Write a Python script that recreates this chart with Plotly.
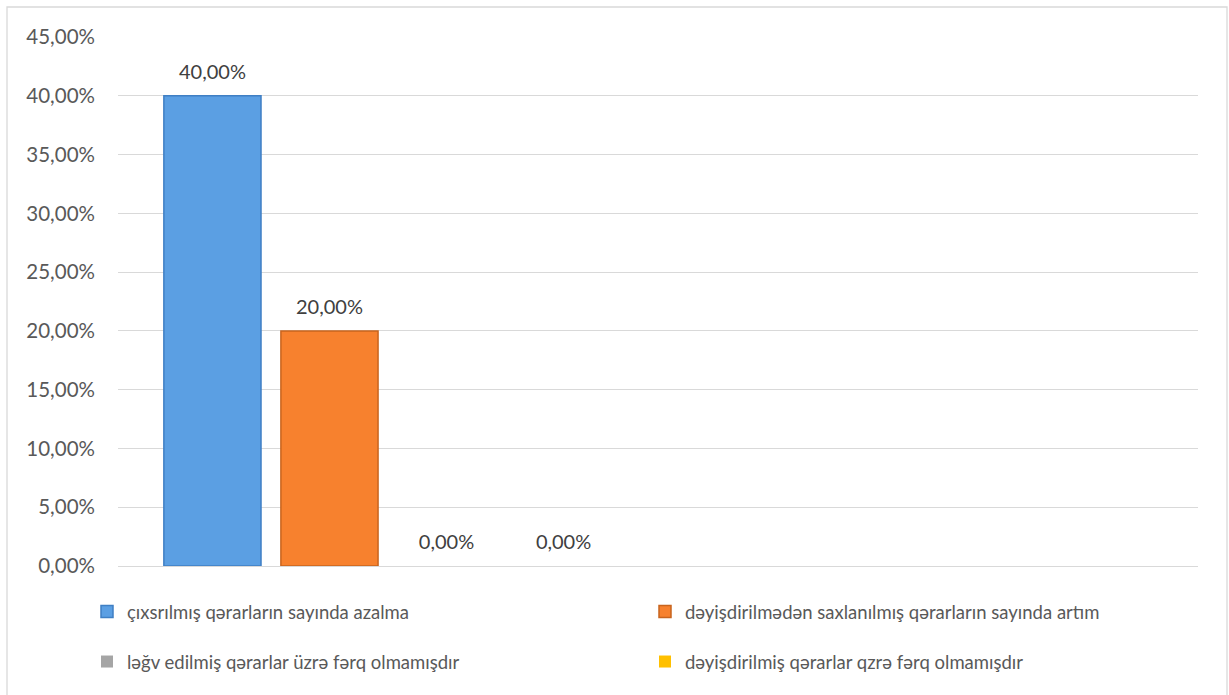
import plotly.graph_objects as go

# ---- data ----
categories = ["A", "B"]
series_names = [
    "çıxsrılmış qərarların sayında azalma",
    "dəyişdirilmədən saxlanılmış qərarların sayında artım",
    "ləğv edilmiş qərarlar üzrə fərq olmamışdır",
    "dəyişdirilmiş qərarlar qzrə fərq olmamışdır",
]
series_values = [0.40, 0.20, 0.0, 0.0]
series_colors = ["#5b9fe3", "#f7812e", "#a5a5a5", "#ffc000"]
series_lines = ["#3f7fc4", "#c8641e", "#7f7f7f", "#c99700"]
legend_ids = ["legend", "legend", "legend2", "legend2"]
y_ticks = [0, 0.05, 0.10, 0.15, 0.20, 0.25, 0.30, 0.35, 0.40, 0.45]

W, H = 1229, 695
ML, MR, MT, MB = 118, 31, 37, 129
PW, PH = W - ML - MR, H - MT - MB
GAP = 0.133

fig = go.Figure()
for i, (name, val, col, lc, lg) in enumerate(zip(series_names, series_values, series_colors, series_lines, legend_ids)):
    fig.add_trace(go.Bar(
        x=[categories[0]], y=[val], name=name, offsetgroup=str(i),
        marker=dict(color=col, line=dict(color=lc, width=1.5 if val > 0 else 0)),
        legend=lg, hoverinfo="name+y",
    ))
for i, val in enumerate(series_values):
    # data labels, placed with the same grouping as the bars
    fig.add_trace(go.Scatter(
        x=[categories[0]], y=[val], offsetgroup=str(i), mode="markers+text",
        texttemplate="%{y:.2%}", textposition="top center",
        textfont=dict(family="Lato", size=20, color="#404040"),
        marker=dict(size=18, color="rgba(0,0,0,0)"),
        showlegend=False, hoverinfo="skip", cliponaxis=False,
    ))

def px_x(x):
    return (x - ML) / PW

def px_y(y):
    return (H - MB - y) / PH

fig.update_layout(
    width=W, height=H,
    margin=dict(l=ML, r=MR, t=MT, b=MB, autoexpand=False),
    paper_bgcolor="white", plot_bgcolor="white",
    separators=", ",
    barmode="group", bargap=GAP, bargroupgap=0.17,
    scattermode="group", scattergap=GAP,
    font=dict(family="Lato", size=18, color="#595959"),
    xaxis=dict(categoryorder="array", categoryarray=categories, range=[-0.5, 1.5],
               showticklabels=False, showgrid=False, zeroline=False, showline=False,
               ticks=""),
    yaxis=dict(range=[0, 0.45], tickvals=y_ticks, tickformat=".2%",
               showgrid=True, gridcolor="#d9d9d9", gridwidth=1.3,
               zeroline=True, zerolinecolor="#d9d9d9", zerolinewidth=1.3,
               showline=False, ticks="", ticklabelstandoff=22,
               tickfont=dict(family="Lato", size=20.5, color="#595959")),
    legend=dict(orientation="h", x=px_x(87), xanchor="left", y=px_y(612), yanchor="middle",
                entrywidth=513, entrywidthmode="pixels", bgcolor="rgba(0,0,0,0)",
                font=dict(family="Lato", size=18.5, color="#595959"), traceorder="normal"),
    legend2=dict(orientation="h", x=px_x(87), xanchor="left", y=px_y(662), yanchor="middle",
                 entrywidth=513, entrywidthmode="pixels", bgcolor="rgba(0,0,0,0)",
                 font=dict(family="Lato", size=18.5, color="#595959"), traceorder="normal"),
    shapes=[dict(type="rect", xref="paper", yref="paper",
                 x0=px_x(7), x1=px_x(1227), y0=px_y(710), y1=px_y(7),
                 line=dict(color="#d9d9d9", width=1.3), fillcolor="rgba(0,0,0,0)")],
)

fig.write_html("out.html", config={"displayModeBar": False},
               post_script="document.body.style.margin='0';")
